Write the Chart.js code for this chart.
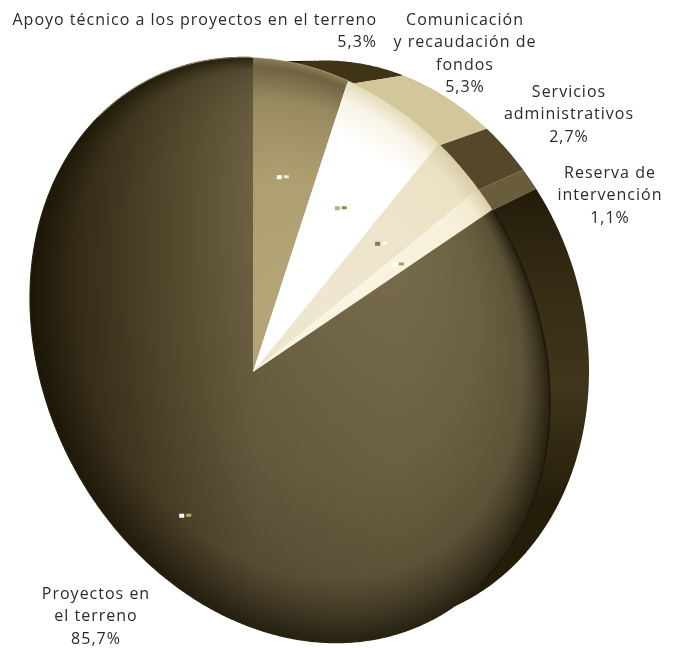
<!DOCTYPE html>
<html lang="es">
  <head>
    <meta charset="UTF-8" />
    <title>Proyectos en el terreno</title>
    <style>
      html, body { margin: 0; padding: 0; background: #fff; }
      #wrap { width: 678px; height: 648px; }
    </style>
  </head>
  <body>
    <div id="wrap"><canvas id="myChart" width="678" height="648"></canvas></div>
    <script src="https://cdn.jsdelivr.net/npm/chart.js"></script>
    <script>
      // shares, clockwise from twelve o'clock
      var categories = [
        "Apoyo técnico a los proyectos en el terreno",
        "Comunicación y recaudación de fondos",
        "Servicios administrativos",
        "Reserva de intervención",
        "Proyectos en el terreno",
      ];
      var shares = [5.3, 5.3, 2.7, 1.1, 85.7];
      var shareLabels = ["5,3%", "5,3%", "2,7%", "1,1%", "85,7%"];

      // wrapped caption for each slice
      var captionLines = [
        ["Apoyo técnico a los proyectos en el terreno"],
        ["Comunicación", "y recaudación de", "fondos"],
        ["Servicios", "administrativos"],
        ["Reserva de", "intervención"],
        ["Proyectos en", "el terreno"],
      ];
      var captionAnchors = [
        { x: 377, y: 20, align: "right" },
        { x: 465, y: 20, align: "center" },
        { x: 569, y: 92, align: "center" },
        { x: 610, y: 173, align: "center" },
        { x: 96, y: 594, align: "center" },
      ];

      // per slice shading, centre to edge
      var faceStops = [
        [[0, "#b8aa7b"], [0.6, "#ad9f71"], [0.86, "#988a5f"], [0.97, "#6f6342"], [1, "#8a7c55"]],
        [[0, "#ffffff"], [0.78, "#ffffff"], [0.92, "#f8f4e6"], [1, "#e4dbba"]],
        [[0, "#efe7d2"], [0.7, "#ece3c8"], [0.9, "#ebe2c6"], [1, "#d8cda6"]],
        [[0, "#faf5e4"], [0.8, "#f7f0da"], [0.92, "#f2ead0"], [1, "#d8cda6"]],
        null,
      ];
      // the big slice: left to right base, then a darkening band toward its edge
      var baseStops = [[0, "#2f2712"], [0.135, "#4a3f25"], [0.29, "#625637"], [0.43, "#75694a"], [0.71, "#7f7351"], [1, "#7f7351"]];
      var edgeStops = [[0, 0], [0.65, 0.2], [0.87, 0.34], [0.93, 0.55], [1, 0.85]];
      var rimColors = ["#3f3418", "#d2c69b", "#54472a", "#6a5d3c", null];
      var lastRimStops = [[0.28, "#1f1a08"], [0.46, "#382e16"], [0.6, "#40351b"], [0.78, "#231d0a"]];
      var speckColors = [
        ["#ffffff", "#f2ecd8"],
        ["#b9ac80", "#8f8358"],
        ["#8a7d52", "#fff9e8"],
        ["#ffffff", "#a89b70"],
        ["#ffffff", "#b5a77a"],
      ];
      var speckRadius = [204, 208, 213, 215, 176];

      // tilted front and back outlines of the disc
      var front = { cx: 290, cy: 350, rx: 260, ry: 288, shear: 0.2 };
      var frontInset = { cx: 290, cy: 350, rx: 256, ry: 284, shear: 0.2 };
      var back = { cx: 350, cy: 342, rx: 239, ry: 280, shear: 0.12 };
      // tilt applied to the pie's directions
      var tiltX = 0.882;
      var tiltY = 0.19;

      function outline(e, t) {
        return {
          x: e.cx + e.rx * Math.cos(t),
          y: e.cy + e.shear * e.rx * Math.cos(t) + e.ry * Math.sin(t),
        };
      }

      // where a ray from the pie centre leaves the front outline
      function hitAngle(ax, ay, angle) {
        var c = Math.cos(angle);
        var dx = tiltX * c;
        var dy = tiltY * c + Math.sin(angle);
        var ux = (ax - front.cx) / front.rx;
        var uy = (ay - front.cy - front.shear * (ax - front.cx)) / front.ry;
        var ex = dx / front.rx;
        var ey = (dy - front.shear * dx) / front.ry;
        var a = ex * ex + ey * ey;
        var b = ux * ex + uy * ey;
        var d = ux * ux + uy * uy - 1;
        var s = (-b + Math.sqrt(b * b - a * d)) / a;
        return Math.atan2(uy + s * ey, ux + s * ex);
      }

      function traceOutline(ctx, e, from, to) {
        var steps = Math.max(2, Math.ceil(Math.abs(to - from) * 120));
        for (var i = 0; i <= steps; i++) {
          var p = outline(e, from + ((to - from) * i) / steps);
          ctx.lineTo(p.x, p.y);
        }
      }

      var discPlugin = {
        id: "disc",
        beforeDatasetDraw: function (chart, args) {
          var ctx = chart.ctx;
          var arcs = args.meta.data;
          var ranges = arcs.map(function (arc) {
            var t0 = hitAngle(arc.x, arc.y, arc.startAngle);
            var t1 = hitAngle(arc.x, arc.y, arc.endAngle);
            if (t1 <= t0) t1 += Math.PI * 2;
            return [t0, t1];
          });

          // side wall between the two outlines, tucked under the face
          arcs.forEach(function (arc, i) {
            var r = ranges[i];
            ctx.beginPath();
            traceOutline(ctx, frontInset, r[0], r[1]);
            traceOutline(ctx, back, r[1], r[0]);
            ctx.closePath();
            if (rimColors[i]) {
              ctx.fillStyle = rimColors[i];
            } else {
              var g = ctx.createLinearGradient(0, 0, 0, chart.height);
              lastRimStops.forEach(function (s) { g.addColorStop(s[0], s[1]); });
              ctx.fillStyle = g;
            }
            ctx.fill();
          });

          // top face: path in page space, radial fills in outline space
          arcs.forEach(function (arc, i) {
            var r = ranges[i];
            ctx.beginPath();
            ctx.moveTo(arc.x, arc.y);
            traceOutline(ctx, front, r[0], r[1]);
            ctx.closePath();
            if (faceStops[i]) {
              ctx.save();
              ctx.transform(front.rx, front.shear * front.rx, 0, front.ry, front.cx, front.cy);
              var g = ctx.createRadialGradient(0.25, 0, 0, 0, 0, 1);
              faceStops[i].forEach(function (s) { g.addColorStop(s[0], s[1]); });
              ctx.fillStyle = g;
              ctx.fill();
              ctx.restore();
            } else {
              var base = ctx.createLinearGradient(30, 0, 550, 0);
              baseStops.forEach(function (s) { base.addColorStop(s[0], s[1]); });
              ctx.fillStyle = base;
              ctx.fill();
              ctx.save();
              ctx.transform(front.rx, front.shear * front.rx, 0, front.ry, front.cx, front.cy);
              var band = ctx.createRadialGradient(0.2, -0.7, 0, 0, 0, 1);
              edgeStops.forEach(function (s) { band.addColorStop(s[0], "rgba(24,19,6," + s[1] + ")"); });
              ctx.fillStyle = band;
              ctx.fill();
              ctx.restore();

              // seal the big slice's edge, darker where it meets the wall
              ctx.beginPath();
              traceOutline(ctx, front, r[0] + 0.01, r[1] - 0.01);
              ctx.strokeStyle = "#2a2310";
              ctx.lineWidth = 1.2;
              ctx.stroke();
              ctx.beginPath();
              traceOutline(ctx, front, r[0] + 0.01, 0.75);
              ctx.strokeStyle = "rgba(28,23,7,0.8)";
              ctx.lineWidth = 1.5;
              ctx.stroke();
            }
          });

          // thin light catch along the upper left edge
          ctx.beginPath();
          traceOutline(ctx, front, -2.4, -1.15);
          ctx.strokeStyle = "rgba(205,190,140,0.6)";
          ctx.lineWidth = 1;
          ctx.stroke();

          // small flecks at each slice's mid angle
          arcs.forEach(function (arc, i) {
            var mid = (arc.startAngle + arc.endAngle) / 2;
            var x = arc.x + tiltX * Math.cos(mid) * speckRadius[i];
            var y = arc.y + (tiltY * Math.cos(mid) + Math.sin(mid)) * speckRadius[i];
            ctx.fillStyle = speckColors[i][0];
            ctx.fillRect(x - 6, y - 2, 5, 4);
            ctx.fillStyle = speckColors[i][1];
            ctx.fillRect(x + 1, y - 2, 5, 3);
          });
          return false;
        },
        afterDatasetsDraw: function (chart) {
          var ctx = chart.ctx;
          ctx.save();
          ctx.font = '16px "Open Sans"';
          ctx.letterSpacing = "1px";
          ctx.fillStyle = "#2b2b2b";
          ctx.textBaseline = "middle";
          captionAnchors.forEach(function (a, i) {
            var lines = captionLines[i].concat(shareLabels[i]);
            ctx.textAlign = a.align;
            lines.forEach(function (line, n) {
              ctx.fillText(line, a.x, a.y + n * 22.5);
            });
          });
          ctx.restore();
        },
      };

      var myChart = new Chart(document.getElementById("myChart"), {
        type: "pie",
        data: {
          labels: categories,
          datasets: [{ data: shares, backgroundColor: rimColors, borderWidth: 0 }],
        },
        options: {
          responsive: false,
          animation: false,
          layout: { padding: { top: 96, right: 172 } },
          plugins: { legend: { display: false }, tooltip: { enabled: false } },
        },
        plugins: [discPlugin],
      });
    </script>
  </body>
</html>
